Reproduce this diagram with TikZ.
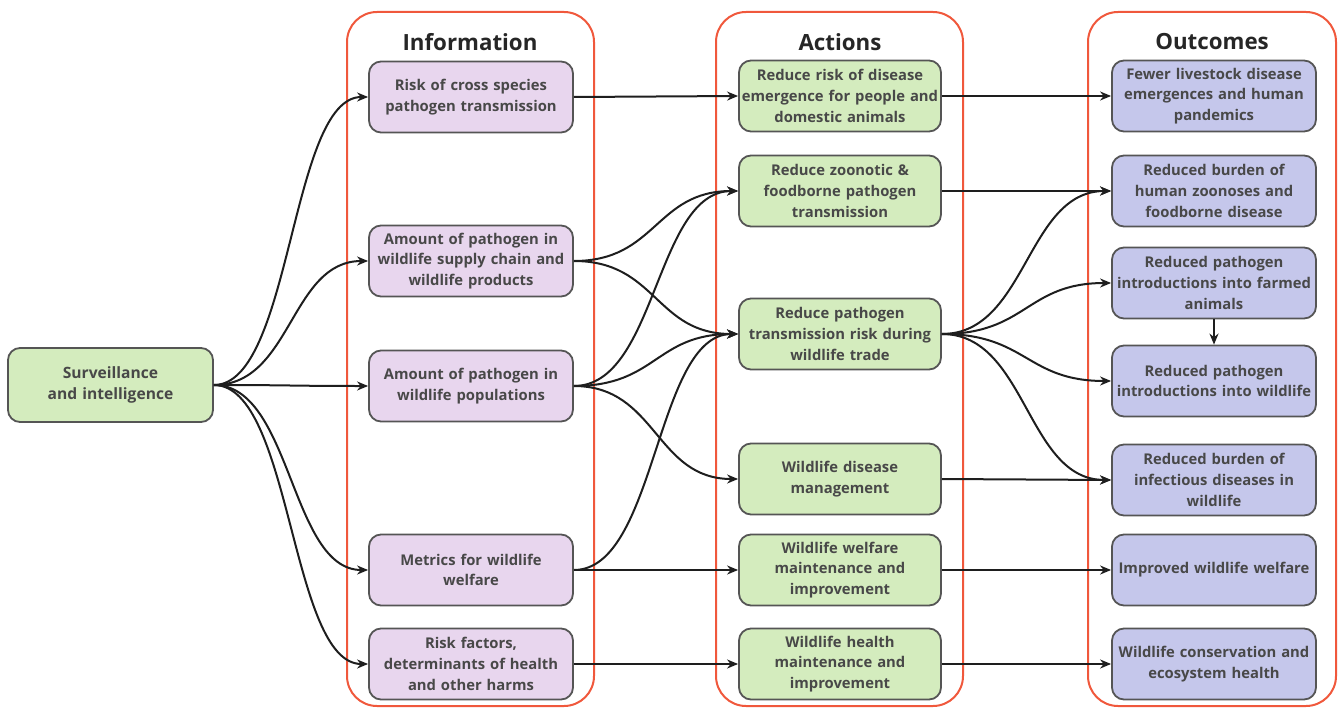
\documentclass[tikz,border=0pt]{standalone}
\usepackage{fontspec}
\setmainfont{Open Sans}
\usetikzlibrary{arrows.meta}
\definecolor{infofill}{RGB}{232,214,238}
\definecolor{actfill}{RGB}{212,236,190}
\definecolor{outfill}{RGB}{197,199,235}
\definecolor{boxline}{RGB}{85,85,85}
\definecolor{txt}{RGB}{72,72,72}
\definecolor{frame}{RGB}{240,88,60}
\definecolor{arrcol}{RGB}{30,30,30}
\begin{document}
\begin{tikzpicture}[x=1pt,y=-1pt,
  box/.style={draw=boxline, line width=1.8pt, rounded corners=12pt, inner xsep=2pt, inner ysep=0pt,
     text width=200pt, minimum height=71pt, align=center, text=txt,
     font=\fontsize{14.8}{20.8}\selectfont\bfseries},
  infobox/.style={box, fill=infofill},
  actbox/.style={box, fill=actfill, text width=198pt},
  outbox/.style={box, fill=outfill},
  container/.style={draw=frame, line width=2pt, rounded corners=30pt},
  title/.style={font=\fontsize{22.3}{26}\selectfont\bfseries, text=black!85},
  arr/.style={draw=arrcol, line width=2pt, -{Stealth[length=11pt,width=9pt]}}
]
\useasboundingbox (0,0) rectangle (1339,709);
% containers
\draw[container] (347,12) rectangle (594,706);
\draw[container] (716,12) rectangle (963,706);
\draw[container] (1088,12) rectangle (1336,706);
\node[title] (t1) at (470,42) {Information};
\node[title] (t2) at (840,42) {Actions};
\node[title] (t3) at (1212,42) {Outcomes};
% source
\node[box, fill=actfill, text width=201pt, minimum height=74pt, font=\fontsize{15.6}{21.5}\selectfont\bfseries] (s) at (110.5,385) {Surveillance\\and intelligence};
% information
\node[infobox] (i1) at (471,97) {Risk of cross species\\pathogen transmission};
\node[infobox] (i2) at (471,261) {Amount of pathogen in\\wildlife supply chain and\\wildlife products};
\node[infobox] (i3) at (471,386) {Amount of pathogen in\\wildlife populations};
\node[infobox] (i4) at (471,570) {Metrics for wildlife\\welfare};
\node[infobox] (i5) at (471,664) {Risk factors,\\determinants of health\\and other harms};
% actions
\node[actbox] (a1) at (840,96) {Reduce risk of disease\\emergence for people and\\domestic animals};
\node[actbox] (a2) at (840,191) {Reduce zoonotic \&\\foodborne pathogen\\transmission};
\node[actbox] (a3) at (840,334) {Reduce pathogen\\transmission risk during\\wildlife trade};
\node[actbox] (a4) at (840,479) {Wildlife disease\\management};
\node[actbox] (a5) at (840,570) {Wildlife welfare\\maintenance and\\improvement};
\node[actbox] (a6) at (840,664) {Wildlife health\\maintenance and\\improvement};
% outcomes
\node[outbox] (o1) at (1214,96) {Fewer livestock disease\\emergences and human\\pandemics};
\node[outbox] (o2) at (1214,191) {Reduced burden of\\human zoonoses and\\foodborne disease};
\node[outbox] (o3) at (1214,283) {Reduced pathogen\\introductions into farmed\\animals};
\node[outbox] (o4) at (1214,381) {Reduced pathogen\\introductions into wildlife};
\node[outbox] (o5) at (1214,480) {Reduced burden of\\infectious diseases in\\wildlife};
\node[outbox] (o6) at (1214,570) {Improved wildlife welfare};
\node[outbox] (o7) at (1214,664) {Wildlife conservation and\\ecosystem health};
% surveillance -> information
\foreach \t in {i1,i2,i3,i4,i5}
  \draw[arr] (s.east) .. controls +(78,0) and +(-78,0) .. (\t.west);
% information -> actions
\draw[arr] (i1.east) -- (a1.west);
\draw[arr] (i2.east) .. controls +(83,0) and +(-83,0) .. (a2.west);
\draw[arr] (i2.east) .. controls +(83,0) and +(-83,0) .. (a3.west);
\draw[arr] (i3.east) .. controls +(83,0) and +(-83,0) .. (a2.west);
\draw[arr] (i3.east) .. controls +(83,0) and +(-83,0) .. (a3.west);
\draw[arr] (i3.east) .. controls +(83,0) and +(-83,0) .. (a4.west);
\draw[arr] (i4.east) .. controls +(83,0) and +(-83,0) .. (a3.west);
\draw[arr] (i4.east) -- (a5.west);
\draw[arr] (i5.east) -- (a6.west);
% actions -> outcomes
\draw[arr] (a1.east) -- (o1.west);
\draw[arr] (a2.east) -- (o2.west);
\draw[arr] (a3.east) .. controls +(85,0) and +(-85,0) .. (o2.west);
\draw[arr] (a3.east) .. controls +(85,0) and +(-85,0) .. (o3.west);
\draw[arr] (a3.east) .. controls +(85,0) and +(-85,0) .. (o4.west);
\draw[arr] (a3.east) .. controls +(85,0) and +(-85,0) .. (o5.west);
\draw[arr] (a4.east) -- (o5.west);
\draw[arr] (a5.east) -- (o6.west);
\draw[arr] (a6.east) -- (o7.west);
\draw[arr] (o3.south) -- (o4.north);
\end{tikzpicture}
\end{document}
